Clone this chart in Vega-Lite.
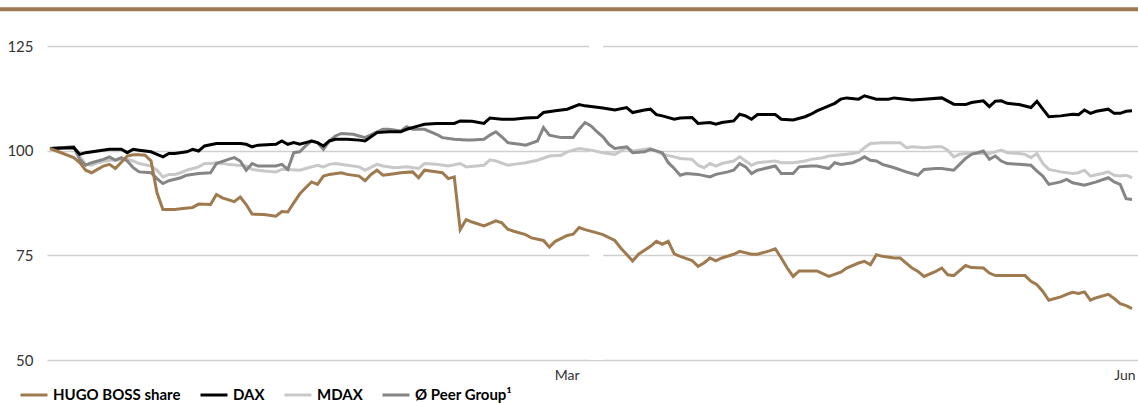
{
"$schema":"https://vega.github.io/schema/vega-lite/v6.json",
"width":1091,"height":360,
"autosize":{"type":"none"},
"padding":{"left":47,"top":0,"right":0,"bottom":43},
"config":{"view":{"stroke":null},"font":"Lato",
 "legend":{"orient":"none","legendX":-28,"legendY":380,"direction":"horizontal","title":null,"symbolType":"stroke","symbolSize":729,"symbolStrokeWidth":3,"labelFont":"Lato","labelFontWeight":"bold","labelFontSize":15,"labelColor":"#000000","columnPadding":13,"labelOffset":4}},
"datasets":{
"hb":[{"date":"2023-12-29","value":100.6},{"date":"2024-01-02","value":98.4},{"date":"2024-01-03","value":97.2},{"date":"2024-01-04","value":95.4},{"date":"2024-01-05","value":94.8},{"date":"2024-01-06","value":95.6},{"date":"2024-01-07","value":96.4},{"date":"2024-01-08","value":96.8},{"date":"2024-01-09","value":95.8},{"date":"2024-01-11","value":98.8},{"date":"2024-01-12","value":99.1},{"date":"2024-01-13","value":99.1},{"date":"2024-01-14","value":99.0},{"date":"2024-01-15","value":97.6},{"date":"2024-01-16","value":90.0},{"date":"2024-01-17","value":86.0},{"date":"2024-01-19","value":86.0},{"date":"2024-01-20","value":86.2},{"date":"2024-01-22","value":86.5},{"date":"2024-01-23","value":87.3},{"date":"2024-01-25","value":87.2},{"date":"2024-01-26","value":89.6},{"date":"2024-01-27","value":88.8},{"date":"2024-01-29","value":87.9},{"date":"2024-01-30","value":89.0},{"date":"2024-01-31","value":87.2},{"date":"2024-02-01","value":84.9},{"date":"2024-02-03","value":84.8},{"date":"2024-02-05","value":84.4},{"date":"2024-02-06","value":85.5},{"date":"2024-02-07","value":85.4},{"date":"2024-02-08","value":87.6},{"date":"2024-02-09","value":89.7},{"date":"2024-02-10","value":91.2},{"date":"2024-02-11","value":92.6},{"date":"2024-02-12","value":92.0},{"date":"2024-02-13","value":94.0},{"date":"2024-02-14","value":94.4},{"date":"2024-02-16","value":94.8},{"date":"2024-02-17","value":94.4},{"date":"2024-02-19","value":94.0},{"date":"2024-02-20","value":92.9},{"date":"2024-02-21","value":94.4},{"date":"2024-02-22","value":95.4},{"date":"2024-02-23","value":94.2},{"date":"2024-02-24","value":94.4},{"date":"2024-02-26","value":94.8},{"date":"2024-02-28","value":95.0},{"date":"2024-02-29","value":93.6},{"date":"2024-03-01","value":95.4},{"date":"2024-03-02","value":95.2},{"date":"2024-03-04","value":94.8},{"date":"2024-03-05","value":93.4},{"date":"2024-03-06","value":93.8},{"date":"2024-03-07","value":81.2},{"date":"2024-03-08","value":83.6},{"date":"2024-03-09","value":83.0},{"date":"2024-03-11","value":82.1},{"date":"2024-03-13","value":83.3},{"date":"2024-03-14","value":82.8},{"date":"2024-03-15","value":81.3},{"date":"2024-03-16","value":80.8},{"date":"2024-03-18","value":80.0},{"date":"2024-03-19","value":79.2},{"date":"2024-03-21","value":78.6},{"date":"2024-03-22","value":77.0},{"date":"2024-03-23","value":78.4},{"date":"2024-03-25","value":79.8},{"date":"2024-03-26","value":80.1},{"date":"2024-03-27","value":81.7},{"date":"2024-03-28","value":81.2},{"date":"2024-03-30","value":80.4},{"date":"2024-03-31","value":80.0},{"date":"2024-04-02","value":78.6},{"date":"2024-04-03","value":76.8},{"date":"2024-04-05","value":73.7},{"date":"2024-04-06","value":75.3},{"date":"2024-04-08","value":77.2},{"date":"2024-04-09","value":78.4},{"date":"2024-04-10","value":77.7},{"date":"2024-04-11","value":78.4},{"date":"2024-04-12","value":75.4},{"date":"2024-04-13","value":74.8},{"date":"2024-04-15","value":73.8},{"date":"2024-04-16","value":72.4},{"date":"2024-04-17","value":73.2},{"date":"2024-04-18","value":74.4},{"date":"2024-04-19","value":73.7},{"date":"2024-04-20","value":74.4},{"date":"2024-04-22","value":75.3},{"date":"2024-04-23","value":76.0},{"date":"2024-04-25","value":75.3},{"date":"2024-04-26","value":75.3},{"date":"2024-04-28","value":76.1},{"date":"2024-04-29","value":76.6},{"date":"2024-04-30","value":74.4},{"date":"2024-05-01","value":72.0},{"date":"2024-05-02","value":70.0},{"date":"2024-05-03","value":71.3},{"date":"2024-05-05","value":71.3},{"date":"2024-05-06","value":71.3},{"date":"2024-05-08","value":70.0},{"date":"2024-05-10","value":71.0},{"date":"2024-05-11","value":72.0},{"date":"2024-05-13","value":73.2},{"date":"2024-05-14","value":73.6},{"date":"2024-05-15","value":72.8},{"date":"2024-05-16","value":75.2},{"date":"2024-05-17","value":74.8},{"date":"2024-05-19","value":74.4},{"date":"2024-05-20","value":74.4},{"date":"2024-05-22","value":72.0},{"date":"2024-05-23","value":71.2},{"date":"2024-05-24","value":70.0},{"date":"2024-05-26","value":71.2},{"date":"2024-05-27","value":72.0},{"date":"2024-05-28","value":70.4},{"date":"2024-05-29","value":70.2},{"date":"2024-05-31","value":72.6},{"date":"2024-06-01","value":72.1},{"date":"2024-06-03","value":72.0},{"date":"2024-06-04","value":70.8},{"date":"2024-06-05","value":70.2},{"date":"2024-06-10","value":70.2},{"date":"2024-06-11","value":68.8},{"date":"2024-06-12","value":68.0},{"date":"2024-06-13","value":66.4},{"date":"2024-06-14","value":64.3},{"date":"2024-06-16","value":65.1},{"date":"2024-06-17","value":65.7},{"date":"2024-06-18","value":66.2},{"date":"2024-06-19","value":65.9},{"date":"2024-06-20","value":66.3},{"date":"2024-06-21","value":64.3},{"date":"2024-06-22","value":64.9},{"date":"2024-06-24","value":65.7},{"date":"2024-06-25","value":64.7},{"date":"2024-06-26","value":63.5},{"date":"2024-06-27","value":63.0},{"date":"2024-06-28","value":62.3}],
"dax":[{"date":"2023-12-29","value":100.6},{"date":"2024-01-02","value":100.8},{"date":"2024-01-03","value":99.2},{"date":"2024-01-04","value":99.6},{"date":"2024-01-06","value":100.0},{"date":"2024-01-08","value":100.4},{"date":"2024-01-10","value":100.4},{"date":"2024-01-11","value":99.6},{"date":"2024-01-12","value":100.4},{"date":"2024-01-13","value":100.2},{"date":"2024-01-15","value":99.8},{"date":"2024-01-16","value":99.2},{"date":"2024-01-17","value":98.6},{"date":"2024-01-18","value":99.4},{"date":"2024-01-19","value":99.4},{"date":"2024-01-21","value":99.8},{"date":"2024-01-22","value":100.4},{"date":"2024-01-23","value":100.0},{"date":"2024-01-24","value":101.2},{"date":"2024-01-26","value":101.8},{"date":"2024-01-28","value":101.8},{"date":"2024-01-30","value":101.8},{"date":"2024-01-31","value":101.6},{"date":"2024-02-01","value":101.0},{"date":"2024-02-02","value":101.4},{"date":"2024-02-05","value":101.6},{"date":"2024-02-06","value":102.4},{"date":"2024-02-07","value":101.6},{"date":"2024-02-08","value":102.0},{"date":"2024-02-09","value":101.6},{"date":"2024-02-10","value":102.0},{"date":"2024-02-11","value":102.4},{"date":"2024-02-12","value":102.0},{"date":"2024-02-13","value":101.2},{"date":"2024-02-14","value":102.4},{"date":"2024-02-15","value":102.8},{"date":"2024-02-17","value":102.8},{"date":"2024-02-19","value":102.6},{"date":"2024-02-20","value":102.4},{"date":"2024-02-21","value":103.4},{"date":"2024-02-22","value":104.4},{"date":"2024-02-24","value":104.6},{"date":"2024-02-26","value":104.6},{"date":"2024-02-27","value":105.2},{"date":"2024-02-29","value":106.0},{"date":"2024-03-01","value":106.4},{"date":"2024-03-03","value":106.6},{"date":"2024-03-06","value":106.6},{"date":"2024-03-07","value":107.2},{"date":"2024-03-09","value":107.1},{"date":"2024-03-11","value":106.6},{"date":"2024-03-12","value":107.9},{"date":"2024-03-14","value":107.6},{"date":"2024-03-16","value":107.6},{"date":"2024-03-18","value":107.9},{"date":"2024-03-20","value":108.0},{"date":"2024-03-21","value":109.2},{"date":"2024-03-23","value":109.6},{"date":"2024-03-25","value":110.0},{"date":"2024-03-27","value":111.1},{"date":"2024-03-28","value":110.8},{"date":"2024-03-31","value":110.3},{"date":"2024-04-02","value":109.8},{"date":"2024-04-04","value":110.4},{"date":"2024-04-05","value":109.2},{"date":"2024-04-07","value":109.8},{"date":"2024-04-08","value":110.0},{"date":"2024-04-09","value":108.7},{"date":"2024-04-10","value":108.4},{"date":"2024-04-12","value":107.6},{"date":"2024-04-13","value":107.9},{"date":"2024-04-15","value":108.0},{"date":"2024-04-16","value":106.6},{"date":"2024-04-18","value":106.8},{"date":"2024-04-19","value":106.4},{"date":"2024-04-20","value":106.8},{"date":"2024-04-22","value":107.2},{"date":"2024-04-23","value":108.8},{"date":"2024-04-24","value":108.4},{"date":"2024-04-25","value":107.6},{"date":"2024-04-26","value":108.7},{"date":"2024-04-29","value":108.7},{"date":"2024-04-30","value":107.6},{"date":"2024-05-02","value":107.4},{"date":"2024-05-04","value":108.2},{"date":"2024-05-05","value":108.8},{"date":"2024-05-06","value":109.6},{"date":"2024-05-08","value":110.8},{"date":"2024-05-09","value":111.4},{"date":"2024-05-10","value":112.4},{"date":"2024-05-11","value":112.7},{"date":"2024-05-13","value":112.4},{"date":"2024-05-14","value":113.2},{"date":"2024-05-16","value":112.4},{"date":"2024-05-18","value":112.4},{"date":"2024-05-19","value":112.7},{"date":"2024-05-22","value":112.2},{"date":"2024-05-24","value":112.4},{"date":"2024-05-27","value":112.7},{"date":"2024-05-29","value":111.2},{"date":"2024-05-31","value":111.1},{"date":"2024-06-01","value":111.6},{"date":"2024-06-03","value":112.0},{"date":"2024-06-04","value":110.6},{"date":"2024-06-05","value":111.9},{"date":"2024-06-06","value":112.0},{"date":"2024-06-07","value":111.4},{"date":"2024-06-09","value":111.1},{"date":"2024-06-11","value":110.4},{"date":"2024-06-12","value":111.9},{"date":"2024-06-13","value":110.0},{"date":"2024-06-14","value":108.2},{"date":"2024-06-16","value":108.4},{"date":"2024-06-18","value":108.8},{"date":"2024-06-19","value":108.7},{"date":"2024-06-20","value":109.8},{"date":"2024-06-21","value":109.0},{"date":"2024-06-22","value":109.5},{"date":"2024-06-24","value":110.0},{"date":"2024-06-25","value":109.0},{"date":"2024-06-26","value":109.0},{"date":"2024-06-27","value":109.5},{"date":"2024-06-28","value":109.6}],
"mdax":[{"date":"2023-12-29","value":100.6},{"date":"2024-01-02","value":101.0},{"date":"2024-01-03","value":98.8},{"date":"2024-01-04","value":96.8},{"date":"2024-01-05","value":96.6},{"date":"2024-01-06","value":97.2},{"date":"2024-01-08","value":97.8},{"date":"2024-01-09","value":97.8},{"date":"2024-01-11","value":98.0},{"date":"2024-01-12","value":97.6},{"date":"2024-01-13","value":97.0},{"date":"2024-01-15","value":96.4},{"date":"2024-01-16","value":95.4},{"date":"2024-01-17","value":93.8},{"date":"2024-01-18","value":94.4},{"date":"2024-01-19","value":94.4},{"date":"2024-01-20","value":94.8},{"date":"2024-01-21","value":95.4},{"date":"2024-01-23","value":96.2},{"date":"2024-01-24","value":97.0},{"date":"2024-01-25","value":97.0},{"date":"2024-01-26","value":97.2},{"date":"2024-01-28","value":96.8},{"date":"2024-01-30","value":96.5},{"date":"2024-01-31","value":96.4},{"date":"2024-02-01","value":95.6},{"date":"2024-02-03","value":95.2},{"date":"2024-02-05","value":95.0},{"date":"2024-02-06","value":95.6},{"date":"2024-02-07","value":95.6},{"date":"2024-02-09","value":95.4},{"date":"2024-02-10","value":95.8},{"date":"2024-02-12","value":96.6},{"date":"2024-02-13","value":96.2},{"date":"2024-02-14","value":96.8},{"date":"2024-02-15","value":97.0},{"date":"2024-02-17","value":96.6},{"date":"2024-02-19","value":96.2},{"date":"2024-02-20","value":95.4},{"date":"2024-02-22","value":96.8},{"date":"2024-02-23","value":96.4},{"date":"2024-02-25","value":96.0},{"date":"2024-02-27","value":96.2},{"date":"2024-02-29","value":95.8},{"date":"2024-03-01","value":97.0},{"date":"2024-03-03","value":96.8},{"date":"2024-03-05","value":96.4},{"date":"2024-03-07","value":97.0},{"date":"2024-03-08","value":96.2},{"date":"2024-03-11","value":96.6},{"date":"2024-03-12","value":97.9},{"date":"2024-03-13","value":97.6},{"date":"2024-03-15","value":96.6},{"date":"2024-03-16","value":96.8},{"date":"2024-03-18","value":97.2},{"date":"2024-03-20","value":97.8},{"date":"2024-03-22","value":98.8},{"date":"2024-03-24","value":99.0},{"date":"2024-03-25","value":99.8},{"date":"2024-03-27","value":100.6},{"date":"2024-03-29","value":100.2},{"date":"2024-03-31","value":99.6},{"date":"2024-04-02","value":99.2},{"date":"2024-04-04","value":100.8},{"date":"2024-04-05","value":100.0},{"date":"2024-04-07","value":100.4},{"date":"2024-04-08","value":100.6},{"date":"2024-04-09","value":100.0},{"date":"2024-04-10","value":99.2},{"date":"2024-04-12","value":98.6},{"date":"2024-04-13","value":98.2},{"date":"2024-04-15","value":98.0},{"date":"2024-04-16","value":96.6},{"date":"2024-04-17","value":96.0},{"date":"2024-04-18","value":97.0},{"date":"2024-04-19","value":96.4},{"date":"2024-04-20","value":97.0},{"date":"2024-04-22","value":97.6},{"date":"2024-04-23","value":98.6},{"date":"2024-04-24","value":97.6},{"date":"2024-04-25","value":96.6},{"date":"2024-04-26","value":97.2},{"date":"2024-04-29","value":97.6},{"date":"2024-04-30","value":97.2},{"date":"2024-05-02","value":97.2},{"date":"2024-05-04","value":97.6},{"date":"2024-05-05","value":98.0},{"date":"2024-05-07","value":98.4},{"date":"2024-05-08","value":98.8},{"date":"2024-05-11","value":99.2},{"date":"2024-05-13","value":99.6},{"date":"2024-05-14","value":100.8},{"date":"2024-05-15","value":101.8},{"date":"2024-05-17","value":102.0},{"date":"2024-05-18","value":102.0},{"date":"2024-05-20","value":102.0},{"date":"2024-05-21","value":100.8},{"date":"2024-05-22","value":101.0},{"date":"2024-05-24","value":100.8},{"date":"2024-05-26","value":101.0},{"date":"2024-05-27","value":101.0},{"date":"2024-05-28","value":100.2},{"date":"2024-05-29","value":98.6},{"date":"2024-05-30","value":99.2},{"date":"2024-06-01","value":99.6},{"date":"2024-06-02","value":99.4},{"date":"2024-06-04","value":99.4},{"date":"2024-06-06","value":100.2},{"date":"2024-06-07","value":99.6},{"date":"2024-06-09","value":99.4},{"date":"2024-06-10","value":99.2},{"date":"2024-06-11","value":98.4},{"date":"2024-06-12","value":99.4},{"date":"2024-06-13","value":97.0},{"date":"2024-06-14","value":95.6},{"date":"2024-06-16","value":95.0},{"date":"2024-06-18","value":94.6},{"date":"2024-06-19","value":94.8},{"date":"2024-06-20","value":95.4},{"date":"2024-06-21","value":94.0},{"date":"2024-06-23","value":94.6},{"date":"2024-06-24","value":95.0},{"date":"2024-06-25","value":94.2},{"date":"2024-06-26","value":94.0},{"date":"2024-06-27","value":94.2},{"date":"2024-06-28","value":93.6}],
"peer":[{"date":"2023-12-29","value":100.6},{"date":"2024-01-02","value":101.0},{"date":"2024-01-03","value":98.0},{"date":"2024-01-04","value":96.6},{"date":"2024-01-05","value":97.2},{"date":"2024-01-07","value":98.0},{"date":"2024-01-08","value":98.6},{"date":"2024-01-09","value":97.8},{"date":"2024-01-10","value":98.4},{"date":"2024-01-11","value":97.6},{"date":"2024-01-12","value":96.0},{"date":"2024-01-13","value":95.0},{"date":"2024-01-15","value":94.8},{"date":"2024-01-16","value":93.4},{"date":"2024-01-17","value":92.2},{"date":"2024-01-18","value":92.9},{"date":"2024-01-20","value":93.6},{"date":"2024-01-21","value":94.2},{"date":"2024-01-23","value":94.6},{"date":"2024-01-25","value":94.8},{"date":"2024-01-26","value":97.0},{"date":"2024-01-28","value":98.0},{"date":"2024-01-29","value":98.4},{"date":"2024-01-30","value":97.6},{"date":"2024-01-31","value":95.4},{"date":"2024-02-01","value":97.0},{"date":"2024-02-02","value":96.4},{"date":"2024-02-05","value":96.4},{"date":"2024-02-06","value":96.8},{"date":"2024-02-07","value":95.6},{"date":"2024-02-08","value":99.6},{"date":"2024-02-09","value":99.8},{"date":"2024-02-10","value":101.2},{"date":"2024-02-11","value":102.4},{"date":"2024-02-12","value":102.0},{"date":"2024-02-13","value":100.4},{"date":"2024-02-14","value":102.4},{"date":"2024-02-15","value":103.6},{"date":"2024-02-16","value":104.2},{"date":"2024-02-18","value":104.0},{"date":"2024-02-19","value":103.6},{"date":"2024-02-20","value":103.2},{"date":"2024-02-22","value":104.6},{"date":"2024-02-23","value":105.2},{"date":"2024-02-24","value":105.2},{"date":"2024-02-26","value":104.8},{"date":"2024-02-27","value":105.8},{"date":"2024-02-28","value":105.2},{"date":"2024-03-01","value":105.2},{"date":"2024-03-03","value":104.0},{"date":"2024-03-04","value":103.2},{"date":"2024-03-06","value":102.8},{"date":"2024-03-08","value":102.6},{"date":"2024-03-09","value":102.6},{"date":"2024-03-11","value":102.8},{"date":"2024-03-12","value":103.8},{"date":"2024-03-13","value":104.6},{"date":"2024-03-14","value":103.4},{"date":"2024-03-15","value":102.0},{"date":"2024-03-17","value":101.6},{"date":"2024-03-18","value":101.4},{"date":"2024-03-20","value":102.4},{"date":"2024-03-21","value":105.6},{"date":"2024-03-22","value":103.8},{"date":"2024-03-24","value":103.2},{"date":"2024-03-26","value":103.2},{"date":"2024-03-27","value":105.2},{"date":"2024-03-28","value":106.8},{"date":"2024-03-29","value":106.0},{"date":"2024-03-30","value":104.6},{"date":"2024-03-31","value":103.4},{"date":"2024-04-01","value":101.6},{"date":"2024-04-02","value":100.6},{"date":"2024-04-04","value":101.0},{"date":"2024-04-05","value":99.6},{"date":"2024-04-07","value":99.8},{"date":"2024-04-08","value":100.4},{"date":"2024-04-10","value":99.6},{"date":"2024-04-11","value":97.2},{"date":"2024-04-12","value":95.8},{"date":"2024-04-13","value":94.2},{"date":"2024-04-14","value":94.6},{"date":"2024-04-16","value":94.4},{"date":"2024-04-18","value":93.8},{"date":"2024-04-19","value":94.4},{"date":"2024-04-21","value":95.0},{"date":"2024-04-22","value":95.4},{"date":"2024-04-23","value":97.0},{"date":"2024-04-24","value":96.2},{"date":"2024-04-25","value":94.6},{"date":"2024-04-26","value":95.4},{"date":"2024-04-29","value":96.4},{"date":"2024-04-30","value":94.6},{"date":"2024-05-02","value":94.6},{"date":"2024-05-03","value":96.2},{"date":"2024-05-05","value":96.4},{"date":"2024-05-06","value":96.4},{"date":"2024-05-08","value":95.8},{"date":"2024-05-09","value":97.2},{"date":"2024-05-10","value":96.8},{"date":"2024-05-12","value":97.2},{"date":"2024-05-13","value":97.8},{"date":"2024-05-14","value":98.6},{"date":"2024-05-15","value":97.8},{"date":"2024-05-16","value":97.6},{"date":"2024-05-17","value":96.8},{"date":"2024-05-19","value":96.0},{"date":"2024-05-21","value":95.0},{"date":"2024-05-23","value":94.2},{"date":"2024-05-24","value":95.6},{"date":"2024-05-26","value":95.8},{"date":"2024-05-27","value":95.8},{"date":"2024-05-29","value":95.4},{"date":"2024-05-30","value":96.8},{"date":"2024-05-31","value":98.2},{"date":"2024-06-01","value":99.2},{"date":"2024-06-03","value":100.0},{"date":"2024-06-04","value":98.0},{"date":"2024-06-05","value":98.8},{"date":"2024-06-06","value":97.6},{"date":"2024-06-07","value":97.0},{"date":"2024-06-09","value":96.8},{"date":"2024-06-11","value":96.6},{"date":"2024-06-12","value":95.2},{"date":"2024-06-13","value":94.0},{"date":"2024-06-14","value":92.0},{"date":"2024-06-16","value":92.6},{"date":"2024-06-17","value":93.2},{"date":"2024-06-18","value":92.4},{"date":"2024-06-20","value":91.8},{"date":"2024-06-22","value":92.6},{"date":"2024-06-24","value":93.6},{"date":"2024-06-25","value":92.6},{"date":"2024-06-26","value":92.0},{"date":"2024-06-27","value":88.6},{"date":"2024-06-28","value":88.4}]
},
"layer":[
 {"data":{"values":[{}]},"mark":{"type":"rule","color":"#ffffff","strokeWidth":14},
  "encoding":{"x":{"datum":{"year":2024,"month":3,"date":29,"hours":21,"utc":true},"type":"temporal"},"y":{"datum":50,"type":"quantitative"},"y2":{"datum":136.12}}},
 {"data":{"values":[{}]},"mark":{"type":"rule","color":"#9d7850","strokeWidth":4},
  "encoding":{"x":{"datum":{"year":2023,"month":12,"date":20,"utc":true},"type":"temporal"},"x2":{"datum":{"year":2024,"month":6,"date":30,"utc":true}},"y":{"datum":133.9,"type":"quantitative"}}},
 {"encoding":{
   "x":{"field":"date","type":"temporal","title":null,
    "scale":{"type":"utc","domain":[{"year":2023,"month":12,"date":28,"hours":12,"utc":true},{"year":2024,"month":6,"date":29,"utc":true}]},
    "axis":{"values":[{"year":2024,"month":3,"date":27,"utc":true},{"year":2024,"month":6,"date":28,"hours":12,"utc":true}],"format":"%b","labelAlign":"right","labelFont":"Lato","labelFontSize":14,"labelColor":"#333333","labelPadding":8,"ticks":false,"domain":false,"grid":false}},
   "y":{"field":"value","type":"quantitative","title":null,
    "scale":{"domain":[50,136.12],"nice":false,"zero":false},
    "axis":{"values":[50,75,100,125],"labelFont":"Lato","labelFontSize":15,"labelColor":"#333333","labelPadding":14,"ticks":false,"domain":false,"grid":true,"gridColor":"#cfcfcf","gridWidth":1.5}}},
  "layer":[
   {"data":{"name":"mdax"},"mark":{"type":"line","strokeWidth":3},
    "encoding":{"color":{"datum":"MDAX","scale":{"domain":["HUGO BOSS share","DAX","MDAX","Ø Peer Group¹"],"range":["#a07a4f","#000000","#c8c8c8","#858585"]}}}},
   {"data":{"name":"peer"},"mark":{"type":"line","strokeWidth":3},"encoding":{"color":{"datum":"Ø Peer Group¹"}}},
   {"data":{"name":"dax"},"mark":{"type":"line","strokeWidth":3},"encoding":{"color":{"datum":"DAX"}}},
   {"data":{"name":"hb"},"mark":{"type":"line","strokeWidth":3},"encoding":{"color":{"datum":"HUGO BOSS share"}}}
  ]}
]
}
